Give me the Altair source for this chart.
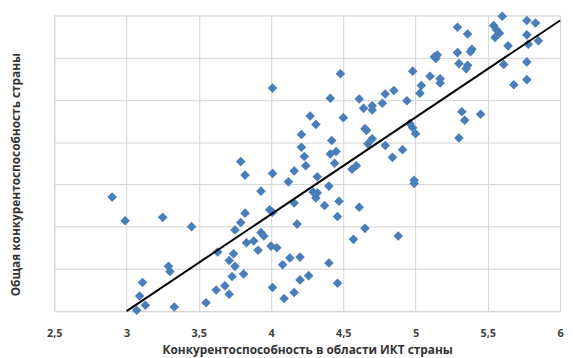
import altair as alt
import pandas as pd

ict = [2.90, 2.99, 3.25, 3.45, 3.63, 3.29, 3.30, 3.11, 3.09, 3.13, 3.07, 3.33, 3.55, 3.62,
       3.68, 3.71, 3.73, 3.75, 3.71, 3.74, 3.81, 3.75, 3.79, 3.82, 3.83, 3.88, 3.91, 3.93,
       3.95, 3.93, 3.99, 4.01, 4.00, 4.04, 4.01, 4.08, 4.13, 4.20, 4.16, 4.09, 4.20, 4.26,
       4.40, 4.46, 4.57, 4.65, 4.61, 4.46, 4.47, 4.37, 4.29, 4.32, 4.31, 4.16, 4.18, 4.40,
       4.12, 4.32, 4.01, 3.82, 4.16, 4.24, 4.44, 4.56, 4.59, 3.79, 4.88, 4.99, 4.99,
       4.48, 4.01, 4.41, 4.61, 4.64, 4.70, 4.70, 4.79, 4.77, 4.85, 4.27, 4.31, 4.50, 4.21,
       4.65, 4.66, 4.70, 4.67, 4.21, 4.42, 4.23, 4.41, 4.45, 4.79, 4.84,
       5.60, 5.29, 5.36, 5.54, 5.56, 5.55, 5.58, 5.77, 5.83, 5.77, 5.85, 5.78, 5.64, 5.39,
       5.38, 5.29, 5.13, 5.15, 5.14, 5.30, 5.35, 5.36, 5.77, 5.61, 4.98, 5.10, 5.17, 5.17,
       5.68, 5.77, 5.04, 5.03, 4.94, 5.32, 5.34, 5.45, 4.96, 4.98, 5.00, 5.30, 4.91]

overall = [3.85, 3.57, 3.61, 3.50, 3.20, 3.03, 2.97, 2.84, 2.68, 2.57, 2.51, 2.55, 2.60, 2.75,
           2.80, 2.70, 2.91, 3.03, 3.10, 3.18, 2.94, 3.46, 3.55, 3.66, 3.31, 3.33, 3.22, 3.43,
           3.39, 3.92, 3.70, 3.67, 3.27, 3.25, 2.78, 3.05, 3.13, 3.14, 2.72, 2.65, 2.87, 2.92,
           3.07, 2.83, 3.35, 3.48, 3.73, 3.62, 3.80, 3.75, 3.91, 3.90, 3.84, 3.78, 3.53, 3.98,
           4.03, 4.09, 4.13, 4.11, 4.16, 4.22, 4.25, 4.18, 4.22, 4.27, 3.39, 4.05, 4.01,
           5.31, 5.14, 5.02, 5.01, 4.90, 4.93, 4.88, 5.07, 4.96, 5.11, 4.81, 4.71, 4.79, 4.59,
           4.66, 4.64, 4.54, 4.48, 4.44, 4.52, 4.33, 4.36, 4.39, 4.46, 4.32,
           5.99, 5.86, 5.78, 5.88, 5.83, 5.74, 5.79, 5.94, 5.91, 5.77, 5.70, 5.66, 5.64, 5.60,
           5.57, 5.56, 5.51, 5.53, 5.49, 5.43, 5.37, 5.41, 5.45, 5.42, 5.34, 5.28, 5.25, 5.20,
           5.18, 5.24, 5.17, 5.08, 4.99, 4.86, 4.76, 4.83, 4.72, 4.67, 4.60, 4.55, 4.41]

trend_x = [3.0, 6.0]
trend_y = [2.5, 5.94]

ticks = [2.5, 3.0, 3.5, 4.0, 4.5, 5.0, 5.5, 6.0]

pts = pd.DataFrame({"x": ict, "y": overall})
line = pd.DataFrame({"x": trend_x, "y": trend_y})

xscale = alt.Scale(domain=[2.5, 6.0], nice=False, zero=False)
yscale = alt.Scale(domain=[2.5, 6.0], nice=False, zero=False)

grid = "#d4d4d4"
font = "Open Sans"

xaxis = alt.Axis(values=ticks, grid=True, gridColor=grid, domainColor=grid, ticks=False,
                 labelExpr="replace(toString(datum.value), '.', ',')",
                 labelFlush=False,
                 labelFont=font, labelFontSize=11, labelFontWeight="bold", labelColor="#404040",
                 labelPadding=17,
                 title="Конкурентоспособность в области ИКТ страны",
                 titleFont=font, titleFontSize=12, titleFontWeight="bold", titleColor="#333333",
                 titleBaseline="middle", titleY=39)
yaxis = alt.Axis(values=ticks, grid=True, gridColor=grid, domain=False, ticks=False, labels=False,
                 title="Общая конкурентоспособность страны",
                 titleFont=font, titleFontSize=12, titleFontWeight="bold", titleColor="#333333",
                 titleAngle=-90, titleBaseline="middle", titleAlign="center",
                 titleX=-39, titleY=161)

scatter = alt.Chart(pts).mark_point(shape="diamond", filled=True, size=95, color="#4a7ebb", opacity=1).encode(
    x=alt.X("x:Q", scale=xscale, axis=xaxis),
    y=alt.Y("y:Q", scale=yscale, axis=yaxis),
)

trend = alt.Chart(line).mark_line(color="#000000", strokeWidth=2).encode(
    x=alt.X("x:Q", scale=xscale),
    y=alt.Y("y:Q", scale=yscale),
)

chart = alt.layer(scatter, trend).properties(
    width=513, height=300,
    autosize=alt.AutoSizeParams(type="none"),
    padding={"left": 47, "top": 5, "right": 5, "bottom": 45},
).configure_view(stroke=None).configure(background="white")

chart.save("out.html", embed_options={"renderer": "svg", "actions": False})
